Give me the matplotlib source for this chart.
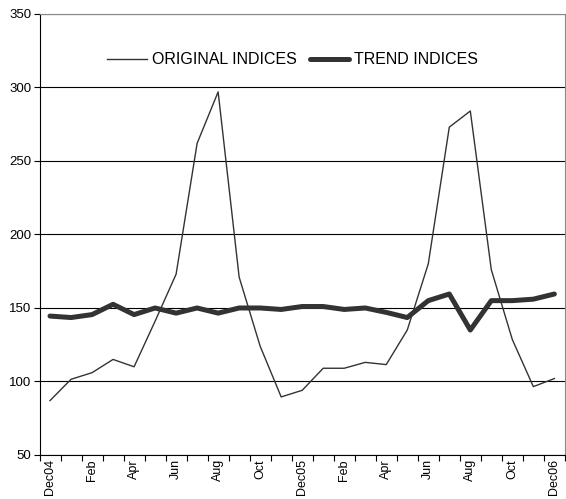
import numpy as np
import matplotlib
matplotlib.use("Agg")
import matplotlib.pyplot as plt
import matplotlib.ticker as ticker

# Months Dec04 .. Dec06, every second one labelled
months = ["Dec04", "Jan", "Feb", "Mar", "Apr", "May", "Jun", "Jul", "Aug",
          "Sep", "Oct", "Nov", "Dec05", "Jan", "Feb", "Mar", "Apr", "May",
          "Jun", "Jul", "Aug", "Sep", "Oct", "Nov", "Dec06"]
original = [87, 101.5, 106, 115, 110, 141, 173, 262, 297, 171, 124, 89.5,
            94, 109, 109, 113, 111.5, 135, 180, 273, 284, 176, 128.5, 96.5, 102]
trend = [144.5, 143.5, 145.5, 152.5, 145.5, 150, 146.5, 150, 146.5, 150,
         150, 149, 151, 151, 149, 150, 147, 143.5, 155, 159.5, 135, 155,
         155, 156, 159.5]

plt.rcParams["font.family"] = ["Liberation Sans", "DejaVu Sans"]

fig = plt.figure(figsize=(5.66, 4.99), dpi=100)
ax = fig.add_axes([0.0698, 0.0882, 0.9282, 0.8838])

x = np.arange(len(months))
ax.plot(x, original, color="#333333", linewidth=1.0, label="ORIGINAL INDICES")
ax.plot(x, trend, color="#333333", linewidth=3.6, solid_capstyle="round",
        label="TREND INDICES")

ax.set_xlim(-0.5, len(months) - 0.5)
ax.set_ylim(50, 350)
ax.yaxis.set_major_locator(ticker.MultipleLocator(50))
ax.grid(True, axis="y", color="black", linewidth=0.8)
ax.set_axisbelow(True)

# tick marks on category boundaries, labels on every second month
ax.set_xticks(np.arange(-0.5, len(months), 1.0))
ax.set_xticklabels([])
ax.set_xticks(x[::2], minor=True)
ax.set_xticklabels(months[::2], minor=True, rotation=90, fontsize=9)
ax.tick_params(axis="x", which="major", length=4, direction="out")
ax.tick_params(axis="x", which="minor", length=0, pad=3)
ax.tick_params(axis="y", length=4, labelsize=9.5, pad=2)

for side in ["top", "right"]:
    ax.spines[side].set_color("#888888")
for side in ["left", "bottom"]:
    ax.spines[side].set_color("black")

ax.legend(loc="center", bbox_to_anchor=(0.482, 0.896), ncol=2, frameon=False,
          fontsize=11.5, handlelength=2.5, handletextpad=0.3,
          columnspacing=0.8)

fig.savefig("out.png", dpi=100)
